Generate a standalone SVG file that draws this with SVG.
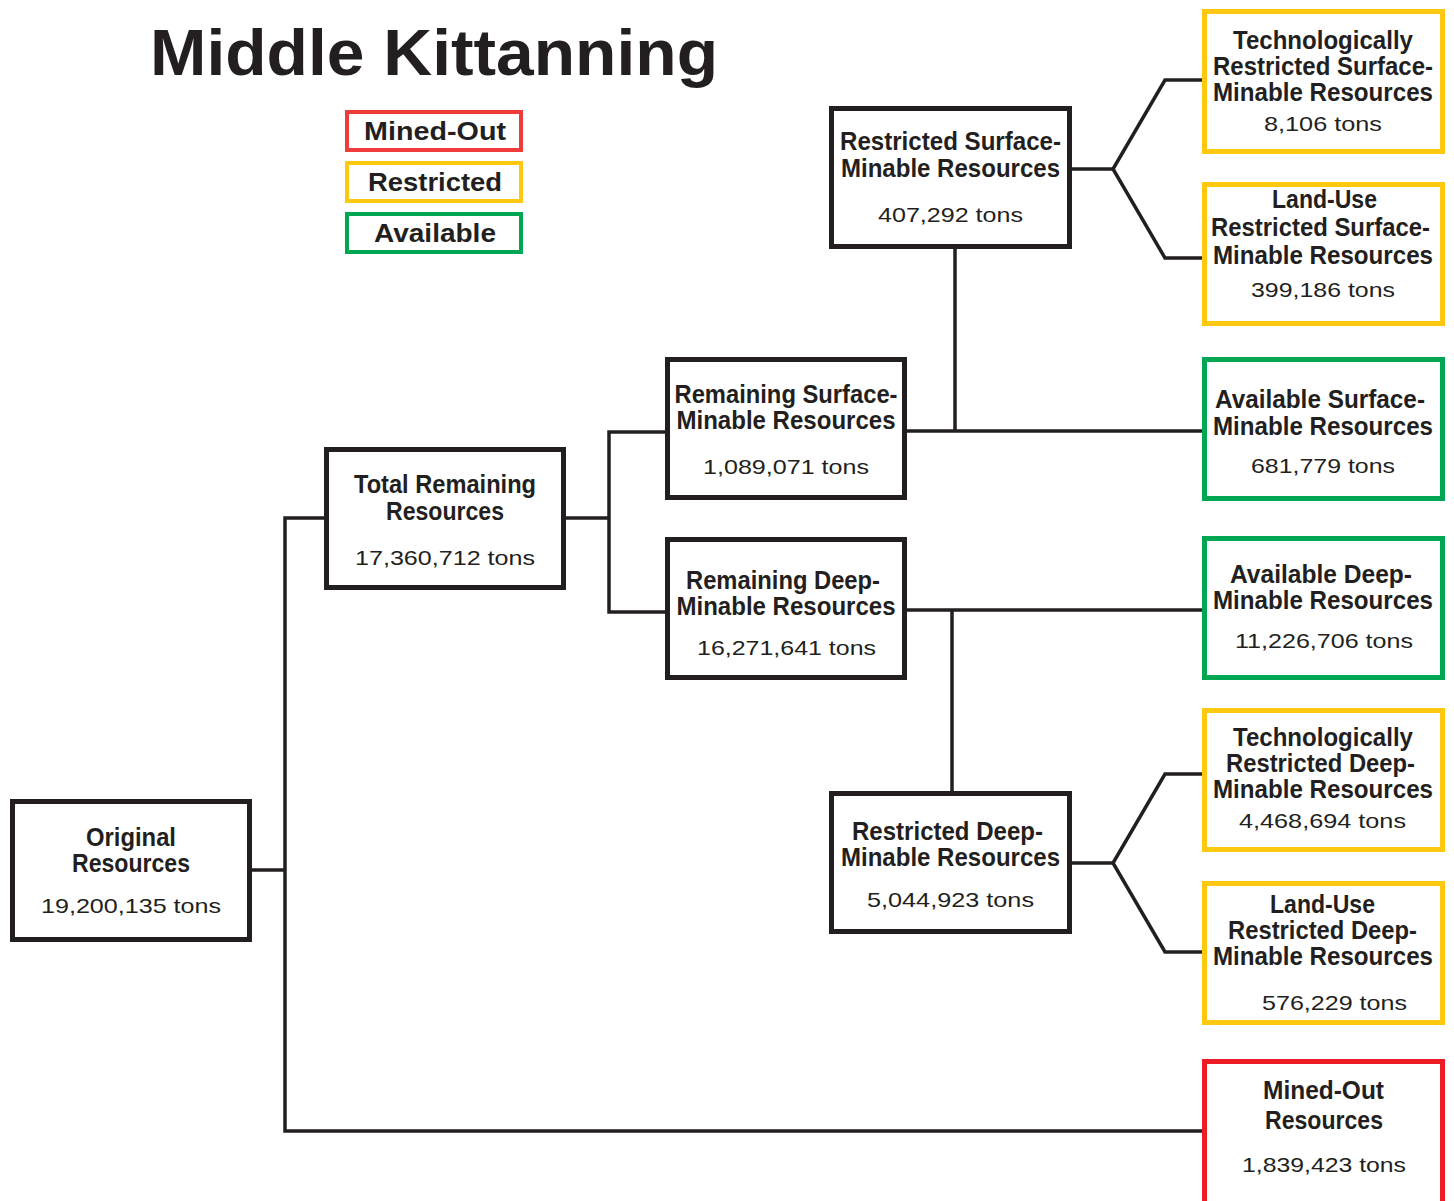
<svg xmlns="http://www.w3.org/2000/svg" width="1454" height="1201" viewBox="0 0 1454 1201">
<style>
.bg{fill:#ffffff}
.k{fill:#fff;stroke:#231f20;stroke-width:5}
.y{fill:#fff;stroke:#fdc80e;stroke-width:5}
.g{fill:#fff;stroke:#00a651;stroke-width:5}
.r{fill:#fff;stroke:#ed1c24;stroke-width:5}
.lr{fill:#fff;stroke:#ef3b39;stroke-width:4}
.ly{fill:#fff;stroke:#fdc80e;stroke-width:4}
.lgn{fill:#fff;stroke:#00a651;stroke-width:4}
.c{fill:none;stroke:#231f20;stroke-width:3.5;stroke-linejoin:miter}
.h{font-family:"Liberation Sans Narrow","Liberation Sans",Arial,sans-serif;font-weight:bold;font-size:25px;fill:#231f20;text-anchor:middle}
.t{font-family:"Liberation Sans",Arial,sans-serif;font-size:21px;fill:#231f20;text-anchor:middle}
.lg{font-family:"Liberation Sans",Arial,sans-serif;font-weight:bold;font-size:25px;fill:#231f20;text-anchor:middle}
.title{font-family:"Liberation Sans",Arial,sans-serif;font-weight:bold;font-size:65px;fill:#231f20}
</style>
<rect class="bg" x="0" y="0" width="1454" height="1201"/>
<text class="title" x="150" y="75" textLength="568" lengthAdjust="spacingAndGlyphs">Middle Kittanning</text>
<g id="legend">
<rect class="lr" x="347" y="112" width="174" height="38"/>
<text class="lg" x="435" y="140" textLength="142" lengthAdjust="spacingAndGlyphs">Mined-Out</text>
<rect class="ly" x="347" y="163" width="174" height="38"/>
<text class="lg" x="435" y="191" textLength="134" lengthAdjust="spacingAndGlyphs">Restricted</text>
<rect class="lgn" x="347" y="214" width="174" height="38"/>
<text class="lg" x="435" y="242" textLength="122" lengthAdjust="spacingAndGlyphs">Available</text>
</g>
<g id="connectors">
<polyline class="c" points="252,870 285,870"/>
<polyline class="c" points="324,518 285,518 285,1131 1202,1131"/>
<polyline class="c" points="566,518 609,518"/>
<polyline class="c" points="665,432 609,432 609,612 665,612"/>
<polyline class="c" points="907,431 1202,431"/>
<polyline class="c" points="955,249 955,431"/>
<polyline class="c" points="907,610 1202,610"/>
<polyline class="c" points="952,610 952,791"/>
<polyline class="c" points="1072,169 1113,169"/>
<polyline class="c" points="1202,80 1165,80 1113,169 1165,258 1202,258"/>
<polyline class="c" points="1072,863 1113,863"/>
<polyline class="c" points="1202,774 1165,774 1113,863 1165,952 1202,952"/>
</g>
<g id="original">
<rect class="k" x="12.5" y="801.5" width="237" height="138"/>
<text class="h" x="131" y="846" textLength="90" lengthAdjust="spacingAndGlyphs">Original</text>
<text class="h" x="131" y="872" textLength="118" lengthAdjust="spacingAndGlyphs">Resources</text>
<text class="t" x="131" y="913" textLength="180" lengthAdjust="spacingAndGlyphs">19,200,135 tons</text>
</g>
<g id="total-remaining">
<rect class="k" x="326.5" y="449.5" width="237" height="138"/>
<text class="h" x="445" y="493" textLength="182" lengthAdjust="spacingAndGlyphs">Total Remaining</text>
<text class="h" x="445" y="520" textLength="118" lengthAdjust="spacingAndGlyphs">Resources</text>
<text class="t" x="445" y="565" textLength="180" lengthAdjust="spacingAndGlyphs">17,360,712 tons</text>
</g>
<g id="remaining-surface">
<rect class="k" x="667.5" y="359.5" width="237" height="138"/>
<text class="h" x="786" y="403" textLength="223" lengthAdjust="spacingAndGlyphs">Remaining Surface-</text>
<text class="h" x="786" y="429" textLength="219" lengthAdjust="spacingAndGlyphs">Minable Resources</text>
<text class="t" x="786" y="474" textLength="166" lengthAdjust="spacingAndGlyphs">1,089,071 tons</text>
</g>
<g id="remaining-deep">
<rect class="k" x="667.5" y="539.5" width="237" height="138"/>
<text class="h" x="783" y="589" textLength="194" lengthAdjust="spacingAndGlyphs">Remaining Deep-</text>
<text class="h" x="786" y="615" textLength="219" lengthAdjust="spacingAndGlyphs">Minable Resources</text>
<text class="t" x="786.5" y="655" textLength="179" lengthAdjust="spacingAndGlyphs">16,271,641 tons</text>
</g>
<g id="restricted-surface">
<rect class="k" x="831.5" y="108.5" width="238" height="138"/>
<text class="h" x="950.5" y="150" textLength="221" lengthAdjust="spacingAndGlyphs">Restricted Surface-</text>
<text class="h" x="950.5" y="177" textLength="219" lengthAdjust="spacingAndGlyphs">Minable Resources</text>
<text class="t" x="950.5" y="222" textLength="145" lengthAdjust="spacingAndGlyphs">407,292 tons</text>
</g>
<g id="restricted-deep">
<rect class="k" x="831.5" y="793.5" width="238" height="138"/>
<text class="h" x="947.5" y="840" textLength="191" lengthAdjust="spacingAndGlyphs">Restricted Deep-</text>
<text class="h" x="950.5" y="866" textLength="219" lengthAdjust="spacingAndGlyphs">Minable Resources</text>
<text class="t" x="950.5" y="907" textLength="167" lengthAdjust="spacingAndGlyphs">5,044,923 tons</text>
</g>
<g id="tech-restricted-surface">
<rect class="y" x="1204.5" y="11.5" width="238" height="140"/>
<text class="h" x="1323" y="49" textLength="180" lengthAdjust="spacingAndGlyphs">Technologically</text>
<text class="h" x="1323" y="75" textLength="220" lengthAdjust="spacingAndGlyphs">Restricted Surface-</text>
<text class="h" x="1323" y="101" textLength="220" lengthAdjust="spacingAndGlyphs">Minable Resources</text>
<text class="t" x="1323" y="131" textLength="118" lengthAdjust="spacingAndGlyphs">8,106 tons</text>
</g>
<g id="landuse-restricted-surface">
<rect class="y" x="1204.5" y="184.5" width="238" height="139"/>
<text class="h" x="1324.5" y="208" textLength="105" lengthAdjust="spacingAndGlyphs">Land-Use</text>
<text class="h" x="1320.5" y="236" textLength="219" lengthAdjust="spacingAndGlyphs">Restricted Surface-</text>
<text class="h" x="1323" y="264" textLength="220" lengthAdjust="spacingAndGlyphs">Minable Resources</text>
<text class="t" x="1323" y="297" textLength="144" lengthAdjust="spacingAndGlyphs">399,186 tons</text>
</g>
<g id="available-surface">
<rect class="g" x="1204.5" y="359.5" width="238" height="139"/>
<text class="h" x="1320" y="408" textLength="210" lengthAdjust="spacingAndGlyphs">Available Surface-</text>
<text class="h" x="1323" y="435" textLength="220" lengthAdjust="spacingAndGlyphs">Minable Resources</text>
<text class="t" x="1323" y="473" textLength="144" lengthAdjust="spacingAndGlyphs">681,779 tons</text>
</g>
<g id="available-deep">
<rect class="g" x="1204.5" y="538.5" width="238" height="139"/>
<text class="h" x="1321" y="583" textLength="182" lengthAdjust="spacingAndGlyphs">Available Deep-</text>
<text class="h" x="1323" y="609" textLength="220" lengthAdjust="spacingAndGlyphs">Minable Resources</text>
<text class="t" x="1324" y="648" textLength="178" lengthAdjust="spacingAndGlyphs">11,226,706 tons</text>
</g>
<g id="tech-restricted-deep">
<rect class="y" x="1204.5" y="710.5" width="238" height="139"/>
<text class="h" x="1323" y="746" textLength="180" lengthAdjust="spacingAndGlyphs">Technologically</text>
<text class="h" x="1320.5" y="772" textLength="189" lengthAdjust="spacingAndGlyphs">Restricted Deep-</text>
<text class="h" x="1323" y="798" textLength="220" lengthAdjust="spacingAndGlyphs">Minable Resources</text>
<text class="t" x="1322.5" y="828" textLength="167" lengthAdjust="spacingAndGlyphs">4,468,694 tons</text>
</g>
<g id="landuse-restricted-deep">
<rect class="y" x="1204.5" y="883.5" width="238" height="139"/>
<text class="h" x="1322.5" y="913" textLength="105" lengthAdjust="spacingAndGlyphs">Land-Use</text>
<text class="h" x="1322.5" y="939" textLength="189" lengthAdjust="spacingAndGlyphs">Restricted Deep-</text>
<text class="h" x="1323" y="965" textLength="220" lengthAdjust="spacingAndGlyphs">Minable Resources</text>
<text class="t" x="1334.5" y="1010" textLength="145" lengthAdjust="spacingAndGlyphs">576,229 tons</text>
</g>
<g id="mined-out">
<rect class="r" x="1204.5" y="1061.5" width="238" height="160"/>
<text class="h" x="1323.5" y="1099" textLength="121" lengthAdjust="spacingAndGlyphs">Mined-Out</text>
<text class="h" x="1324" y="1129" textLength="118" lengthAdjust="spacingAndGlyphs">Resources</text>
<text class="t" x="1324" y="1172" textLength="164" lengthAdjust="spacingAndGlyphs">1,839,423 tons</text>
</g>
</svg>
